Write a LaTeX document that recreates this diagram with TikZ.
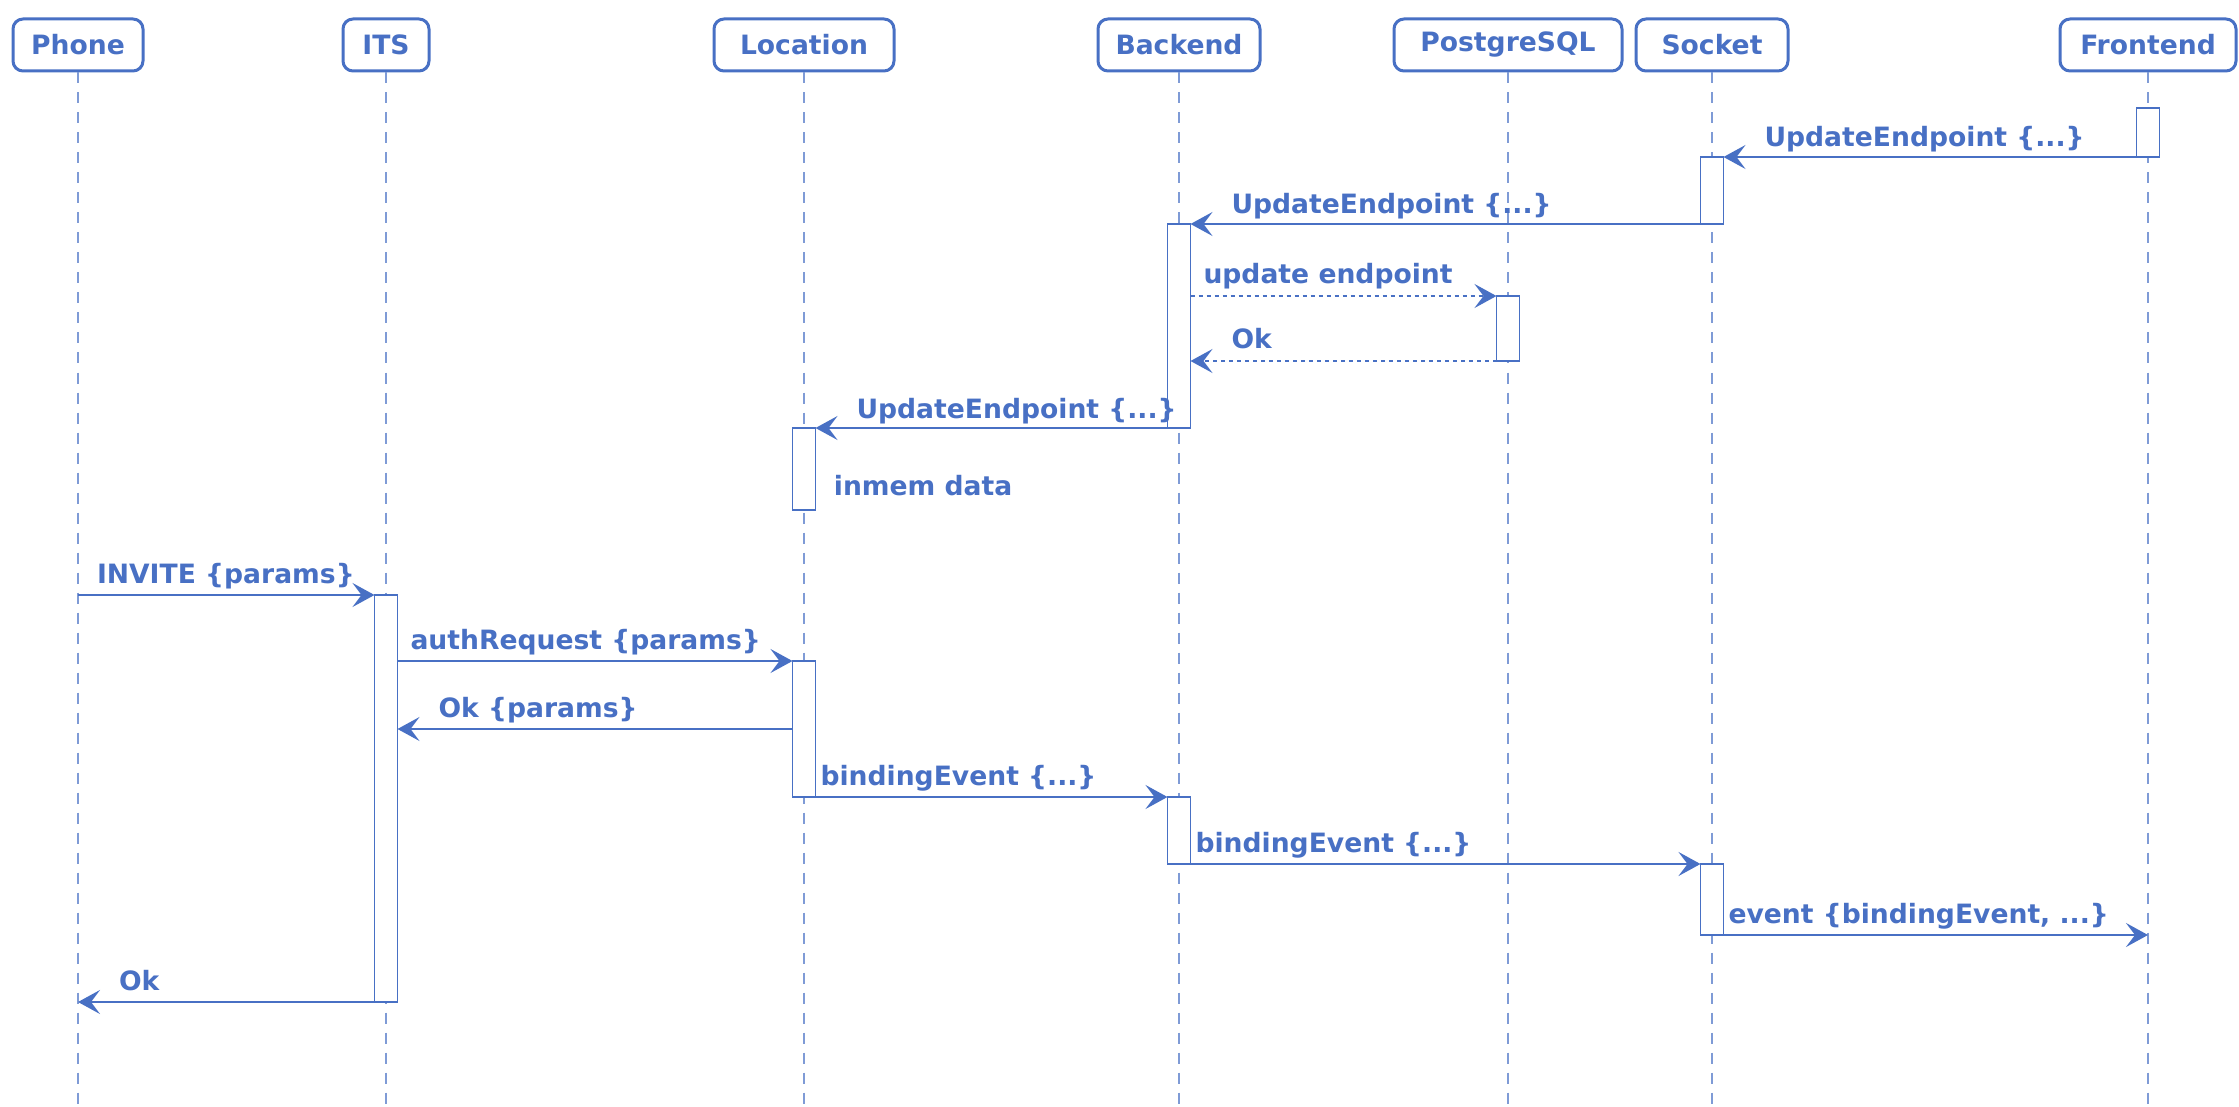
\documentclass[tikz,border=0pt]{standalone}
\usepackage{fontspec}
\setmainfont{DejaVu Sans}
\usetikzlibrary{arrows.meta,calc}

\definecolor{seqblue}{RGB}{72,112,196}

\tikzset{
    head/.style={draw=seqblue,line width=1.5pt,rounded corners=5pt,
        minimum height=26pt,inner sep=0pt,text=seqblue,
        font=\bfseries\fontsize{13.3}{16}\selectfont},
    life/.style={draw=seqblue!70,line width=0.6pt,dash pattern=on 5.5pt off 4.5pt},
    bar/.style={draw=seqblue,fill=white,line width=0.9pt,outer sep=0pt,
        minimum width=11.5pt,inner sep=0pt,anchor=north},
    msg/.style={draw=seqblue,line width=1pt,
        -{Stealth[length=11pt,width=12pt,inset=4.5pt]}},
    reply/.style={msg,dash pattern=on 2pt off 2pt},
    lbl/.style={text=seqblue,inner sep=0pt,anchor=base west,
        font=\bfseries\fontsize{13.3}{16}\selectfont}
}

\begin{document}
\begin{tikzpicture}[x=0.5pt,y=-0.5pt]

\useasboundingbox (0,0) rectangle (2239,1107);

% bottom end of all lifelines
\coordinate (bottom) at (0,1107);

% Participant heads and their dashed lifelines.
\foreach \n/\x/\w in {Phone/78/130,ITS/386/86,Location/804/180,
    Backend/1179/162,PostgreSQL/1508/228,Socket/1712/152,Frontend/2148/176} {

    \node[head,minimum width=\w*0.5pt] (\n) at (\x,45) {\n};

    % lifeline goes down to the bottom
    \draw[life] (\n.south) -- (\n |- bottom);
}

% Activation bars: name/lifeline/top/bottom.
\foreach \b/\l/\t/\e in {fe1/Frontend/108/157,sk1/Socket/157/224,
    be1/Backend/224/428,pg1/PostgreSQL/296/361,lo1/Location/428/510,
    it1/ITS/595/1002,lo2/Location/661/797,be2/Backend/797/864,
    sk2/Socket/864/935} {

    \node[bar,minimum height=(\e-\t)*0.5pt] (\b) at (\l |- 0,\t) {};
}

% Endpoint update coming in from the frontend.
\draw[msg]
    (fe1.south west) -- (sk1.north east)
    node[lbl,pos=1,xshift=20pt,yshift=5pt]{UpdateEndpoint \{...\}};

\draw[msg]
    (sk1.south west) -- (be1.north east)
    node[lbl,pos=1,xshift=20pt,yshift=5pt]{UpdateEndpoint \{...\}};

% Backend stores it in the database.
\draw[reply]
    (pg1.north west -| be1.east) -- (pg1.north west)
    node[lbl,pos=0,xshift=6pt,yshift=6pt]{update endpoint};

\draw[reply]
    (pg1.south west) -- (pg1.south west -| be1.east)
    node[lbl,pos=1,xshift=20pt,yshift=6pt]{Ok};

% and passes it on to location.
\draw[msg]
    (be1.south west) -- (lo1.north east)
    node[lbl,pos=1,xshift=20pt,yshift=5pt]{UpdateEndpoint \{...\}};

\node[lbl,anchor=west,xshift=9pt,yshift=12pt] (inmem) at (lo1.south east) {inmem data};

%
% Call from the phone.
%
\draw[msg]
    (it1.north west -| Phone) -- (it1.north west)
    node[lbl,pos=0,xshift=9pt,yshift=6pt]{INVITE \{params\}};

\draw[msg]
    (lo2.north west -| it1.east) -- (lo2.north west)
    node[lbl,pos=0,xshift=6pt,yshift=6pt]{authRequest \{params\}};

\draw[msg]
    (lo2.west) -- (lo2.west -| it1.east)
    node[lbl,pos=1,xshift=20pt,yshift=6pt]{Ok \{params\}};

% Binding event goes all the way to the frontend.
\draw[msg]
    (lo2.south east) -- (be2.north west)
    node[lbl,pos=0,xshift=2pt,yshift=6pt]{bindingEvent \{...\}};

\draw[msg]
    (be2.south east) -- (sk2.north west)
    node[lbl,pos=0,xshift=2pt,yshift=6pt]{bindingEvent \{...\}};

\draw[msg]
    (sk2.south east) -- (sk2.south east -| Frontend)
    node[lbl,pos=0,xshift=2pt,yshift=6pt]{event \{bindingEvent, ...\}};

% Answer back to the phone.
\draw[msg]
    (it1.south west) -- (it1.south west -| Phone)
    node[lbl,pos=1,xshift=20pt,yshift=6pt]{Ok};

\end{tikzpicture}
\end{document}
